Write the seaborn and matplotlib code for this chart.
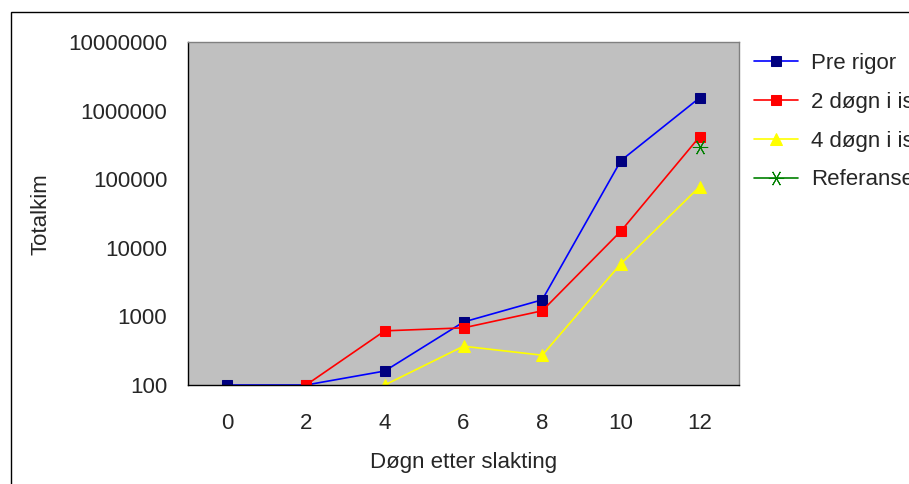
import numpy as np
import pandas as pd
import matplotlib
matplotlib.use('Agg')
import matplotlib.pyplot as plt
import seaborn as sns
from matplotlib.patches import Rectangle

days = ['0', '2', '4', '6', '8', '10', '12']
pre_rigor = [100, 100, 160, 830, 1750, 188000, 1550000]
dogn2 = [np.nan, 100, 617, 682, 1210, 17600, 420000]
dogn4 = [np.nan, np.nan, 100, 368, 272, 5880, 78200]
referanse = [np.nan, np.nan, np.nan, np.nan, np.nan, np.nan, 300000]
yticks = [100, 1000, 10000, 100000, 1000000, 10000000]

df = pd.DataFrame({'pos': range(len(days)), 'Pre rigor': pre_rigor,
                   '2 døgn i is': dogn2, '4 døgn i is': dogn4, 'Referanse': referanse})

sns.set_style('white')
plt.rcParams['font.family'] = ['Liberation Sans', 'DejaVu Sans']
FS = 16

fig = plt.figure(figsize=(9.09, 4.84), dpi=100)
ax = fig.add_axes([188/909, 1 - 385/484, (739-188)/909, (385-42.3)/484])
ax.set_facecolor('#C0C0C0')

styles = [
    ('Pre rigor', dict(color='#0000FF', marker='s', markerfacecolor='#000080', markeredgecolor='#000080', markersize=7.5)),
    ('2 døgn i is', dict(color='#FF0000', marker='s', markerfacecolor='#FF0000', markeredgecolor='#FF0000', markersize=7.5)),
    ('4 døgn i is', dict(color='#FFFF00', marker='^', markerfacecolor='#FFFF00', markeredgecolor='#FFFF00', markersize=9)),
    ('Referanse', dict(color='#008000', marker=(6, 2, 90), markeredgecolor='#008000', markersize=11)),
]
for name, st in styles:
    sns.lineplot(data=df, x='pos', y=name, ax=ax, label=name, linewidth=1.2, **st)

ax.set_yscale('log')
ax.set_ylim(100, 10000000)
ax.set_yticks(yticks)
ax.set_yticklabels([str(v) for v in yticks])
ax.yaxis.set_minor_locator(matplotlib.ticker.NullLocator())
ax.set_xlim(-0.5, len(days) - 0.5)
ax.set_xticks(range(len(days)))
ax.set_xticklabels(days)
ax.set_xticks(np.arange(-0.5, len(days)), minor=True)
ax.tick_params(axis='x', which='major', length=0, pad=20, labelsize=FS)
ax.tick_params(axis='x', which='minor', length=6, width=1, color='black', direction='out')
ax.tick_params(axis='y', which='major', length=6, width=1, color='black', direction='out', labelsize=FS, pad=9)

for side in ['top', 'right']:
    ax.spines[side].set_color('#808080')
for side in ['left', 'bottom']:
    ax.spines[side].set_color('black')
for s in ax.spines.values():
    s.set_linewidth(1)

ax.set_xlabel('Døgn etter slakting', fontsize=FS, labelpad=13)
ax.set_ylabel('Totalkim', fontsize=FS, labelpad=12)

ax.legend(loc='upper left', bbox_to_anchor=(754/909, 1 - 53/484), bbox_transform=fig.transFigure,
          frameon=False, fontsize=FS, handlelength=2.0, handletextpad=0.55, labelspacing=0.8,
          borderaxespad=0, borderpad=0)

fig.patches.append(Rectangle((11/909, -0.1), 1.2, 1.1 - 12/484, transform=fig.transFigure,
                             fill=False, edgecolor='black', linewidth=1))

fig.savefig('out.png', dpi=100)
